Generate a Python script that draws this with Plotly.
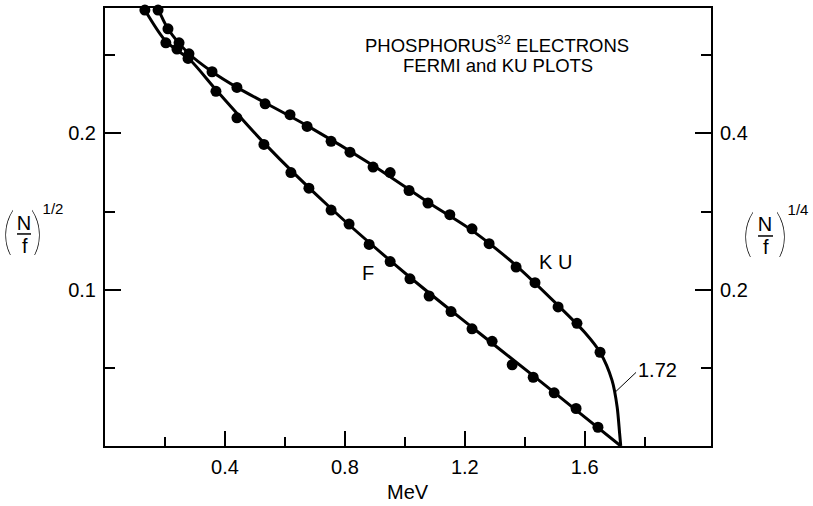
import plotly.graph_objects as go

# ---- data ----
# Fermi plot markers: x in MeV, y = (N/f)^(1/2)  (left axis)
f_x = [0.133, 0.203, 0.240, 0.277, 0.370, 0.440, 0.530, 0.620, 0.680, 0.754, 0.814,
       0.881, 0.951, 1.017, 1.081, 1.154, 1.224, 1.291, 1.358, 1.428, 1.498, 1.571, 1.644]
f_y = [0.279, 0.258, 0.254, 0.248, 0.227, 0.210, 0.193, 0.175, 0.165, 0.151, 0.142,
       0.129, 0.118, 0.107, 0.096, 0.086, 0.075, 0.067, 0.052, 0.044, 0.034, 0.024, 0.012]
# Fermi fitted curve
fc_x = [0.133, 0.203, 0.284, 0.370, 0.530, 0.754, 1.017, 1.224, 1.428, 1.571, 1.72]
fc_y = [0.279, 0.259, 0.247, 0.228, 0.194, 0.152, 0.108, 0.076, 0.045, 0.023, 0.0]

# KU plot markers: x in MeV, y = (N/f)^(1/4)  (right axis)
ku_x = [0.177, 0.210, 0.247, 0.280, 0.357, 0.440, 0.534, 0.617, 0.674, 0.754, 0.817,
        0.894, 0.951, 1.014, 1.077, 1.150, 1.224, 1.281, 1.371, 1.434, 1.511, 1.574, 1.651]
ku_y = [0.558, 0.534, 0.516, 0.502, 0.479, 0.459, 0.438, 0.424, 0.409, 0.390, 0.376,
        0.357, 0.350, 0.327, 0.311, 0.296, 0.278, 0.259, 0.229, 0.209, 0.178, 0.157, 0.120]
# KU fitted curve
kc_x = [0.170, 0.210, 0.280, 0.357, 0.440, 0.674, 0.894, 1.077, 1.224, 1.371, 1.511,
        1.601, 1.651, 1.691, 1.708, 1.716, 1.72]
kc_y = [0.566, 0.534, 0.502, 0.479, 0.459, 0.410, 0.359, 0.312, 0.276, 0.231, 0.180,
        0.145, 0.120, 0.084, 0.050, 0.017, 0.0]

x_ticks = [0.4, 0.8, 1.2, 1.6]
x_minor = [0.2, 0.6, 1.0, 1.4, 1.8]
yl_ticks = [0.1, 0.2]
yl_minor = [0.05, 0.15, 0.25]
yr_ticks = [0.2, 0.4]
yr_minor = [0.1, 0.3, 0.5]

FONT = "Liberation Sans, Arial, Helvetica, sans-serif"
BLACK = "#000000"

fig = go.Figure()
fig.add_trace(go.Scatter(x=fc_x, y=fc_y, mode="lines", line=dict(color=BLACK, width=3, shape="spline", smoothing=0.8),
                         hoverinfo="skip", showlegend=False))
fig.add_trace(go.Scatter(x=f_x, y=f_y, mode="markers", marker=dict(color=BLACK, size=11),
                         cliponaxis=False, showlegend=False, name="F"))
fig.add_trace(go.Scatter(x=kc_x, y=kc_y, mode="lines", yaxis="y2",
                         line=dict(color=BLACK, width=3, shape="spline", smoothing=0.8),
                         hoverinfo="skip", showlegend=False))
fig.add_trace(go.Scatter(x=ku_x, y=ku_y, mode="markers", yaxis="y2", marker=dict(color=BLACK, size=11),
                         cliponaxis=False, showlegend=False, name="KU"))

axis_common = dict(showline=True, linecolor=BLACK, linewidth=2, showgrid=False, zeroline=False,
                   ticks="inside", tickcolor=BLACK, tickwidth=2,
                   tickfont=dict(family=FONT, size=20, color=BLACK))

fig.update_layout(
    width=813, height=506,
    margin=dict(l=105, r=102, t=6, b=60),
    paper_bgcolor="white", plot_bgcolor="white",
    xaxis=dict(range=[0, 2.021], tickvals=x_ticks, ticktext=["0.4", "0.8", "1.2", "1.6"],
               ticklen=15, mirror=True, ticklabelstandoff=2,
               minor=dict(tickvals=x_minor, ticklen=9, tickwidth=2, tickcolor=BLACK, ticks="inside"),
               **axis_common),
    yaxis=dict(range=[0, 0.2803], tickvals=yl_ticks, ticktext=["0.1", "0.2"], ticklen=16,
               ticklabelstandoff=3,
               minor=dict(tickvals=yl_minor, ticklen=10, tickwidth=2, tickcolor=BLACK, ticks="inside"),
               **axis_common),
    yaxis2=dict(range=[0, 0.5606], tickvals=yr_ticks, ticktext=["0.2", "0.4"], ticklen=16,
                overlaying="y", side="right", ticklabelstandoff=3,
                minor=dict(tickvals=yr_minor, ticklen=10, tickwidth=2, tickcolor=BLACK, ticks="inside"),
                **axis_common),
)

def ann(text, x, y, size, **kw):
    fam = kw.pop("family", FONT)
    wt = kw.pop("weight", "normal")
    fig.add_annotation(text=text, x=x, y=y, xref="paper", yref="paper", showarrow=False,
                       xanchor="center", yanchor="middle",
                       font=dict(family=fam, size=size, color=BLACK, weight=wt), **kw)

# title block
ann("PHOSPHORUS<sup>32</sup> ELECTRONS", 0.6469, 0.917, 18.5, height=18)
ann("FERMI and KU PLOTS", 0.6477, 0.870, 18.5, height=18)
# curve labels
ann("F", 0.434, 0.396, 20)
ann("K U", 0.7442, 0.419, 20)
ann("1.72", 0.9125, 0.174, 20)
# x-axis title
ann("MeV", 0.5008, -0.104, 20)

# left axis label (N/f)^(1/2)
ann("(", -0.1576, 0.490, 60, family="Lato", weight=200, width=8, height=48)
ann("N", -0.1337, 0.508, 20, width=14, height=16)
ann("f", -0.1328, 0.457, 20, width=10, height=16)
ann(")", -0.1139, 0.490, 60, family="Lato", weight=200, width=8, height=48)
ann("1/2", -0.0860, 0.543, 15, width=22, height=12)
fig.add_shape(type="line", xref="paper", yref="paper", x0=-0.1452, x1=-0.1221, y0=0.4841, y1=0.4841,
              line=dict(color=BLACK, width=1.5))
# right axis label (N/f)^(1/4)
ann("(", 1.0619, 0.486, 60, family="Lato", weight=200, width=8, height=48)
ann("N", 1.0899, 0.506, 20, width=14, height=16)
ann("f", 1.0908, 0.455, 20, width=10, height=16)
ann(")", 1.1155, 0.486, 60, family="Lato", weight=200, width=8, height=48)
ann("1/4", 1.1430, 0.541, 15, width=22, height=12)
fig.add_shape(type="line", xref="paper", yref="paper", x0=1.0776, x1=1.1023, y0=0.4795, y1=0.4795,
              line=dict(color=BLACK, width=1.5))

# leader line for the 1.72 end point
fig.add_shape(type="line", xref="x", yref="y", x0=1.701, y0=0.0344, x1=1.771, y1=0.0471,
              line=dict(color=BLACK, width=1))

fig.write_html("out.html")
